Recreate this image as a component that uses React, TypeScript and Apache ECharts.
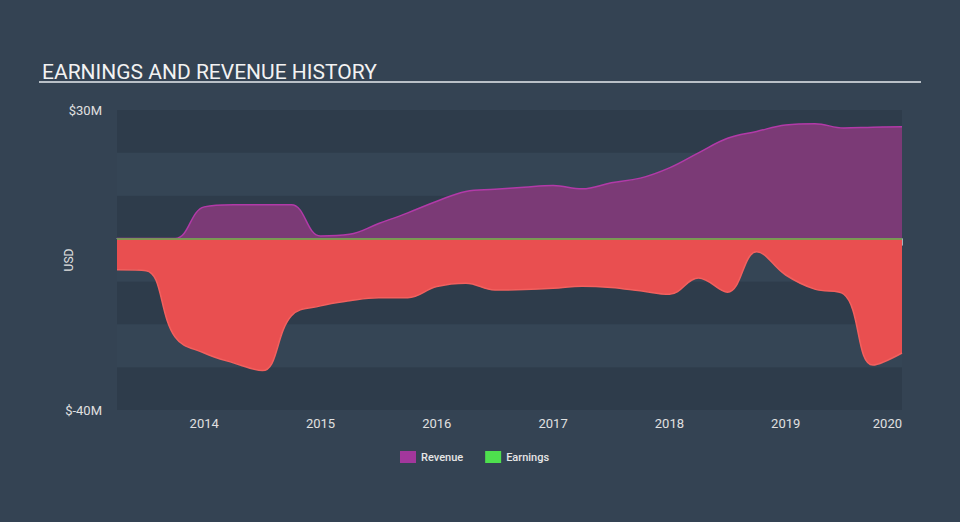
import React, { useEffect, useRef } from "react";
import * as echarts from "echarts";

const quarters = [
  2013.25, 2013.5, 2013.75, 2014.0, 2014.25, 2014.5, 2014.75,
  2015.0, 2015.25, 2015.5, 2015.75, 2016.0, 2016.25, 2016.5, 2016.75,
  2017.0, 2017.25, 2017.5, 2017.75, 2018.0, 2018.25, 2018.5, 2018.75,
  2019.0, 2019.25, 2019.5, 2019.75, 2020.0,
];

const revenue = [
  0, 0, 0, 7.4, 7.9, 7.9, 7.9,
  0.6, 1.0, 3.5, 6.0, 8.7, 11.0, 11.5, 12.0,
  12.4, 11.6, 13.0, 14.1, 16.5, 20.0, 23.4, 25.0,
  26.5, 26.8, 25.8, 26.0, 26.1,
];

const earnings = [
  -7.3, -7.5, -23, -26.7, -29, -30.8, -18,
  -15.7, -14.5, -13.8, -13.8, -11.2, -10.4, -12.0, -11.9,
  -11.6, -11.1, -11.4, -12.2, -13.0, -9.2, -12.5, -3.1,
  -8.5, -11.8, -13, -29.5, -26.7,
];

const yearTicks = [2014, 2015, 2016, 2017, 2018, 2019, 2020];
const yLabelValues = [-40, 30];

export default function App() {
  const ref = useRef<HTMLDivElement>(null);
  useEffect(() => {
    if (!ref.current) return;
    document.body.style.margin = "0";
    const chart = echarts.init(ref.current, null, { renderer: "svg" });
    const font = "Roboto, 'Noto Sans', sans-serif";
    chart.setOption({
      animation: false,
      backgroundColor: "#344353",
      textStyle: { fontFamily: font },
      title: {
        text: "EARNINGS AND REVENUE HISTORY",
        left: 37,
        top: 56,
        textStyle: { color: "#f2f2f2", fontSize: 21, fontWeight: "normal", fontFamily: font },
      },
      graphic: [
        {
          type: "line",
          shape: { x1: 39, y1: 82, x2: 921, y2: 82 },
          style: { stroke: "#b9c0c7", lineWidth: 2 },
        },
      ],
      grid: { left: 117, right: 58, top: 110, bottom: 112 },
      legend: {
        left: 395,
        top: 446,
        icon: "rect",
        itemWidth: 16,
        itemHeight: 12,
        itemGap: 22,
        textStyle: { color: "#e6e6e6", fontSize: 11, fontFamily: font, fontWeight: 500 },
        data: [
          { name: "Revenue", itemStyle: { color: "#a2379c" } },
          { name: "Earnings", itemStyle: { color: "#4ee04e" } },
        ],
      },
      xAxis: {
        type: "value",
        min: quarters[0],
        max: quarters[quarters.length - 1],
        splitLine: { show: false },
        axisLine: { show: true, lineStyle: { color: "#a7b0ba", width: 1 } },
        axisTick: {
          show: true,
          customValues: yearTicks,
          length: 7,
          lineStyle: { color: "#a7b0ba" },
        },
        axisLabel: {
          customValues: yearTicks,
          color: "#e0e0e0",
          fontSize: 13,
          margin: 7,
          alignMaxLabel: "right",
          formatter: (v: number) => String(Math.round(v)),
        },
      },
      yAxis: {
        type: "value",
        min: -40,
        max: 30,
        interval: 10,
        name: "USD",
        nameLocation: "middle",
        nameGap: 42,
        nameMoveOverlap: false,
        nameRotate: 90,
        nameTextStyle: { color: "#e0e0e0", fontSize: 12 },
        axisLine: { show: false },
        axisTick: { show: false },
        splitLine: { show: false },
        splitArea: { show: true, areaStyle: { color: ["#2e3c4b", "#354555"] } },
        axisLabel: {
          color: "#e0e0e0",
          fontSize: 13,
          margin: 15,
          formatter: (v: number) => (yLabelValues.includes(v) ? `$${v}M` : ""),
        },
      },
      series: [
        {
          name: "Revenue",
          type: "line",
          data: quarters.map((q, i) => [q, revenue[i]]),
          smooth: 0.4,
          showSymbol: false,
          itemStyle: { color: "#a2379c" },
          lineStyle: { color: "#b23aa8", width: 1.5 },
          areaStyle: { color: "#7b3a76", opacity: 1 },
          z: 2,
        },
        {
          name: "Earnings",
          type: "line",
          data: quarters.map((q, i) => [q, earnings[i]]),
          smooth: 0.4,
          showSymbol: false,
          itemStyle: { color: "#4ee04e" },
          lineStyle: { color: "#f2605e", width: 1.5 },
          areaStyle: { color: "#e94f50", opacity: 1 },
          z: 3,
          markLine: {
            silent: true,
            symbol: "none",
            label: { show: false },
            lineStyle: { color: "#5fae4f", width: 1.5, type: "solid" },
            data: [{ yAxis: 0 }],
          },
        },
      ],
    });
    return () => chart.dispose();
  }, []);
  return <div ref={ref} style={{ width: 960, height: 522 }} />;
}
